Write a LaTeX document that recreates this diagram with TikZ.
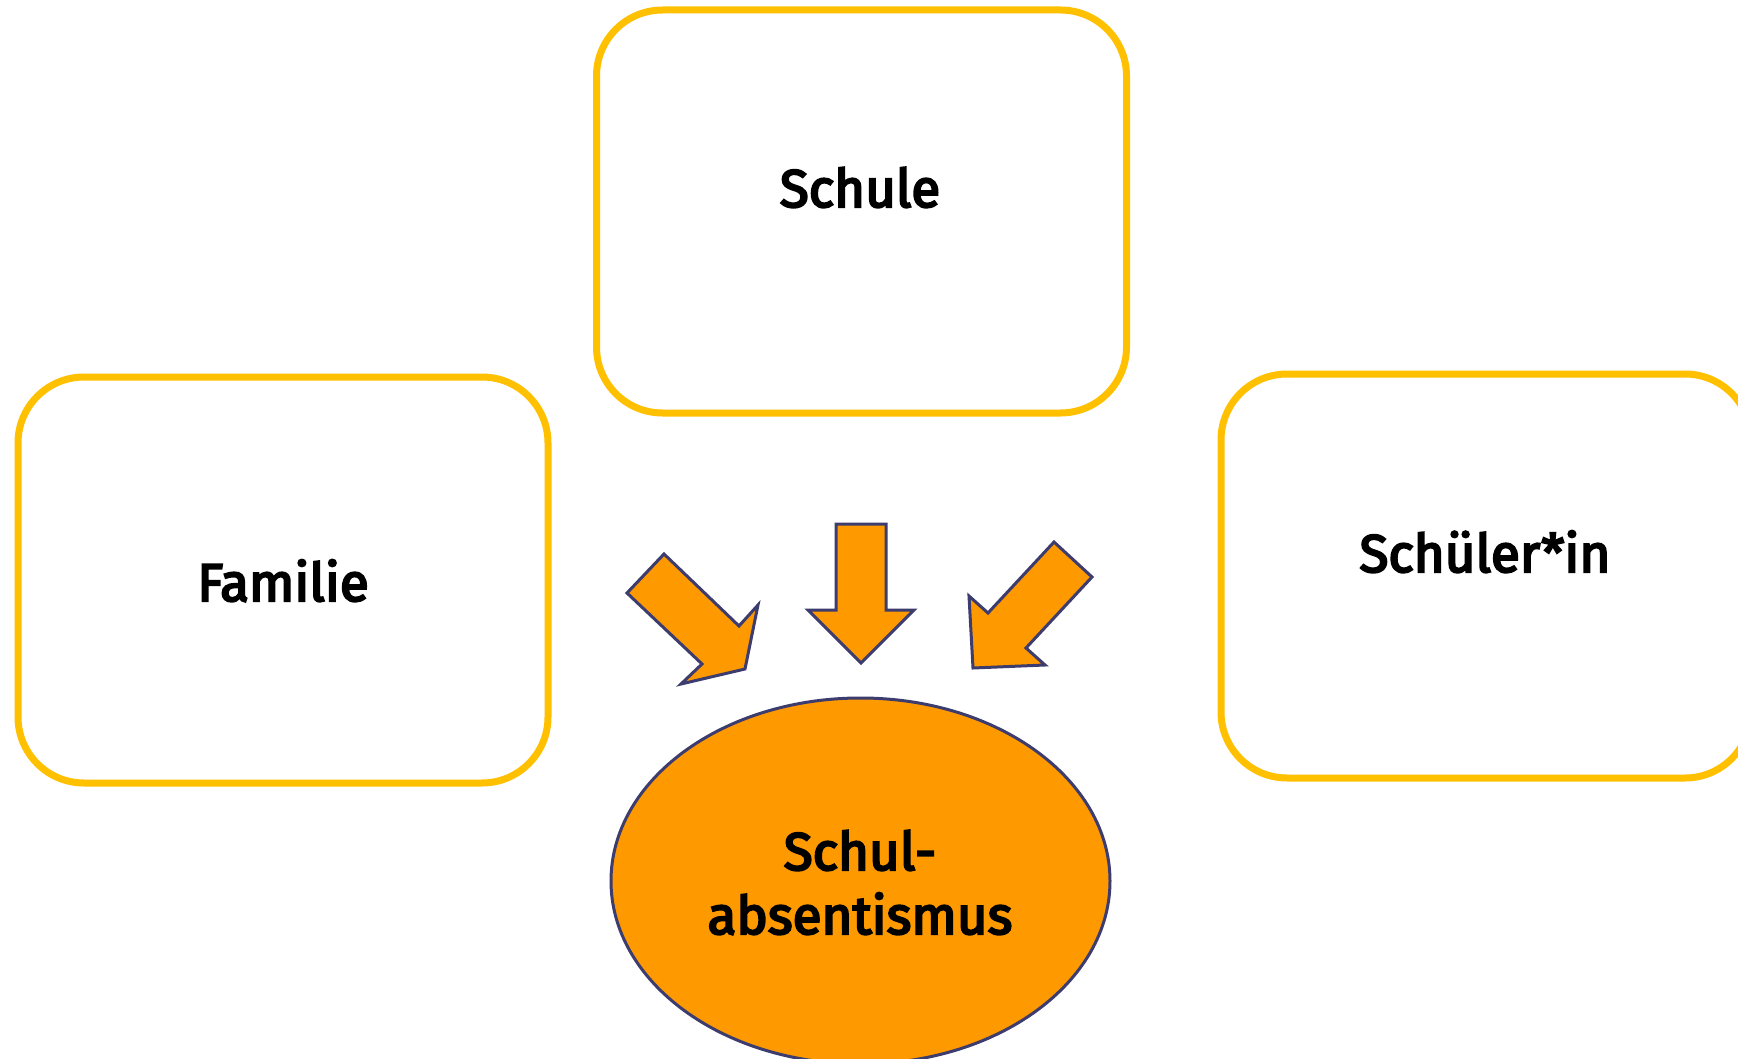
\documentclass[tikz,border=0pt]{standalone}
\usepackage{fontspec}
\setmainfont{Fira Sans}
\newfontfamily\lblfont{Fira Sans}[FakeBold=4]
\usetikzlibrary{shapes.geometric}
\definecolor{boxyellow}{HTML}{FFC000}
\definecolor{arroworange}{HTML}{FF9900}
\definecolor{navyline}{HTML}{3C3C6E}
\begin{document}
\begin{tikzpicture}[x=1pt,y=-1pt,
  factorbox/.style={draw=boxyellow, line width=7pt, rounded corners=66pt, fill=white, inner sep=0pt},
  lbl/.style={font=\fontsize{53}{64}\lblfont, anchor=base, inner sep=0pt, align=center},
  bigarrow/.style={draw=navyline, fill=arroworange, line width=3pt, line join=miter}]
\useasboundingbox (0,0) rectangle (1738,1059);
\clip (0,0) rectangle (1738,1059);
% boxes
\node[factorbox, minimum width=530pt, minimum height=403pt] (schule) at (861.5,211.5) {};
\node[factorbox, minimum width=530pt, minimum height=406pt] (familie) at (283,580) {};
\node[factorbox, minimum width=530pt, minimum height=404pt] (schueler) at (1486,576) {};
% labels
\node[lbl] (schuletxt) at (860,207) {Schule};
\node[lbl] (familietxt) at (283,601) {Familie};
\node[lbl] (schuelertxt) at (1485,572) {Schüler*in};
% ellipse
\node[ellipse, draw=navyline, fill=arroworange, line width=3pt, minimum width=499pt, minimum height=366pt, inner sep=0pt] (abs) at (860.5,881) {};
\node[lbl] (abstxt1) at (860,870) {Schul-};
\node[lbl] (abstxt2) at (860,934) {absentismus};
% arrows
\draw[bigarrow] (664,554) -- (627,593) -- (702,664) -- (681,684) -- (745,669) -- (758,605) -- (739,626) -- cycle;
\draw[bigarrow] (836,524) -- (886,524) -- (886,610) -- (914,610) -- (861,663) -- (808,610) -- (836,610) -- cycle;
\draw[bigarrow] (1054,542) -- (1092,577) -- (1026,648) -- (1045,665) -- (973,668) -- (969,596) -- (988,613) -- cycle;
\end{tikzpicture}
\end{document}
